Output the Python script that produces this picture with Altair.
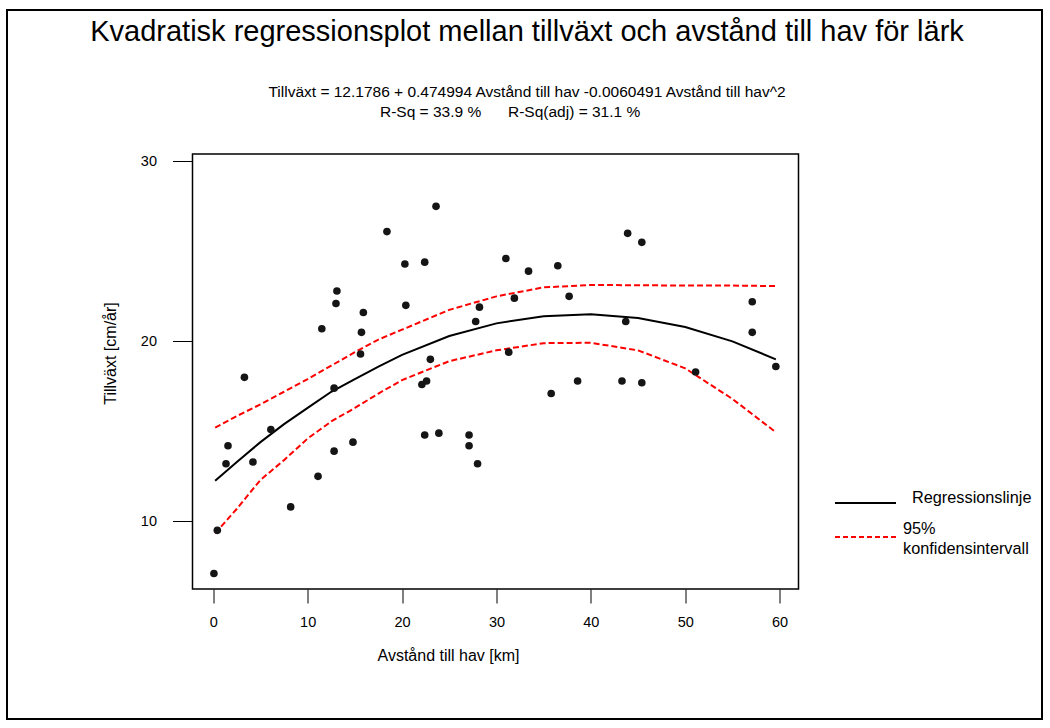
import altair as alt
import pandas as pd

# ---- data ----
dist = [0.07, 0.43, 1.35, 1.56, 3.3, 4.2, 6.1, 8.2, 11.1, 11.5,
        12.8, 12.8, 13.0, 13.1, 14.8, 15.6, 15.7, 15.9, 18.4, 20.3,
        20.4, 22.1, 22.4, 22.4, 22.6, 23.0, 23.6, 23.9, 27.1, 27.1,
        27.8, 28.0, 28.2, 31.0, 31.3, 31.9, 33.4, 35.8, 36.5, 37.7,
        38.6, 43.3, 43.7, 43.9, 45.4, 45.4, 51.1, 57.1, 57.1, 59.6]
growth = [7.1, 9.5, 13.2, 14.2, 18.0, 13.3, 15.1, 10.8, 12.5, 20.7,
          17.4, 13.9, 22.1, 22.8, 14.4, 19.3, 20.5, 21.6, 26.1, 24.3,
          22.0, 17.6, 24.4, 14.8, 17.8, 19.0, 27.5, 14.9, 14.8, 14.2,
          21.1, 13.2, 21.9, 24.6, 19.4, 22.4, 23.9, 17.1, 24.2, 22.5,
          17.8, 17.8, 21.1, 26.0, 25.5, 17.7, 18.3, 22.2, 20.5, 18.6]

fit_x = [0.2, 2.5, 5, 7.5, 10, 12.5, 15, 17.5, 20, 25, 30, 35, 40, 45, 50, 55, 59.6]
fit_y = [12.25, 13.3, 14.4, 15.4, 16.3, 17.2, 17.9, 18.6, 19.25, 20.3, 21.0, 21.4, 21.5, 21.3, 20.8, 20.0, 19.0]
ci_high = [15.2, 15.85, 16.5, 17.2, 17.9, 18.65, 19.4, 20.1, 20.65, 21.75, 22.5, 23.0, 23.13, 23.12, 23.1, 23.1, 23.07]
ci_low = [9.33, 10.7, 12.3, 13.4, 14.6, 15.55, 16.3, 17.1, 17.85, 18.9, 19.5, 19.9, 19.92, 19.5, 18.5, 16.8, 14.95]

x_ticks = [0, 10, 20, 30, 40, 50, 60]
y_ticks = [10, 20, 30]

title_text = "Kvadratisk regressionsplot mellan tillväxt och avstånd till hav för lärk"
eq_text = "Tillväxt = 12.1786 + 0.474994 Avstånd till hav -0.0060491 Avstånd till hav^2"
rsq_text = "R-Sq = 33.9 %"
rsqadj_text = "R-Sq(adj) = 31.1 %"
legend_labels = ["Regressionslinje", "95%", "konfidensintervall"]

pts = pd.DataFrame({"x": dist, "y": growth})
curve = pd.DataFrame({"x": fit_x, "fit": fit_y, "lo": ci_low, "hi": ci_high})
one = pd.DataFrame({"a": [0]})

FONT = "Liberation Sans"
L, T = 192.5, 154  # plot origin in page pixels
W, H = 606, 435

xs = alt.Scale(domain=[-2.2, 62.0], nice=False, zero=False)
ys = alt.Scale(domain=[6.24, 30.41], nice=False, zero=False)

xaxis = alt.Axis(values=x_ticks, tickSize=14, tickColor="black", tickWidth=1,
                 domain=False, grid=False, labelFontSize=14.5, labelColor="black",
                 labelPadding=12, title="Avstånd till hav [km]", titleFontSize=16,
                 titleFontWeight="normal", titleColor="black", titleX=255.5,
                 titleY=66, titleBaseline="middle", titleAnchor="start", titleAlign="center")
yaxis = alt.Axis(values=y_ticks, tickSize=20, tickColor="black", tickWidth=1,
                 domain=False, grid=False, labelFontSize=14.5, labelColor="black",
                 labelPadding=16, title="Tillväxt [cm/år]", titleFontSize=16,
                 titleFontWeight="normal", titleColor="black", titleX=-82.5,
                 titleY=199, titleBaseline="middle", titleAlign="center", titleAnchor="start")

points = alt.Chart(pts).mark_circle(size=58, color="#151515", opacity=1).encode(
    x=alt.X("x:Q", scale=xs, axis=xaxis),
    y=alt.Y("y:Q", scale=ys, axis=yaxis),
)

fit_line = alt.Chart(curve).mark_line(color="black", strokeWidth=2).encode(
    x=alt.X("x:Q", scale=xs), y=alt.Y("fit:Q", scale=ys))
lo_line = alt.Chart(curve).mark_line(color="#ff0000", strokeWidth=2, strokeDash=[6, 3]).encode(
    x=alt.X("x:Q", scale=xs), y=alt.Y("lo:Q", scale=ys))
hi_line = alt.Chart(curve).mark_line(color="#ff0000", strokeWidth=2, strokeDash=[6, 3]).encode(
    x=alt.X("x:Q", scale=xs), y=alt.Y("hi:Q", scale=ys))


def txt(s, px, py, size, align="center"):
    return alt.Chart(one).mark_text(text=s, fontSize=size, align=align, baseline="middle",
                                    color="black", font=FONT).encode(
        x=alt.value(px - L), y=alt.value(py - T))


border = alt.Chart(one).mark_rect(filled=False, stroke="black", strokeWidth=2).encode(
    x=alt.value(7 - L), x2=alt.value(1042 - L), y=alt.value(10 - T), y2=alt.value(719 - T))

leg_black = alt.Chart(one).mark_rule(color="black", strokeWidth=2).encode(
    x=alt.value(835 - L), x2=alt.value(896 - L), y=alt.value(503 - T))
leg_red = alt.Chart(one).mark_rule(color="#ff0000", strokeWidth=2, strokeDash=[5, 3]).encode(
    x=alt.value(835 - L), x2=alt.value(896 - L), y=alt.value(537 - T))

chart = alt.layer(
    border,
    lo_line, hi_line, fit_line, points,
    txt(title_text, 527, 32, 29),
    txt(eq_text, 527, 92, 15.5),
    txt(rsq_text, 380, 112, 15.5, "left"),
    txt(rsqadj_text, 508, 112, 15.5, "left"),
    leg_black, leg_red,
    txt(legend_labels[0], 912, 498, 16.3, "left"),
    txt(legend_labels[1], 903, 529, 16.3, "left"),
    txt(legend_labels[2], 903, 549, 16.3, "left"),
).properties(
    width=W, height=H,
    autosize=alt.AutoSizeParams(type="none"),
    padding={"left": L, "top": T, "right": 1050 - L - W, "bottom": 728 - T - H},
    background="white",
).configure(font=FONT).configure_view(stroke="black", strokeWidth=1.5)

chart.save("out.html", embed_options={"renderer": "svg", "actions": False})
